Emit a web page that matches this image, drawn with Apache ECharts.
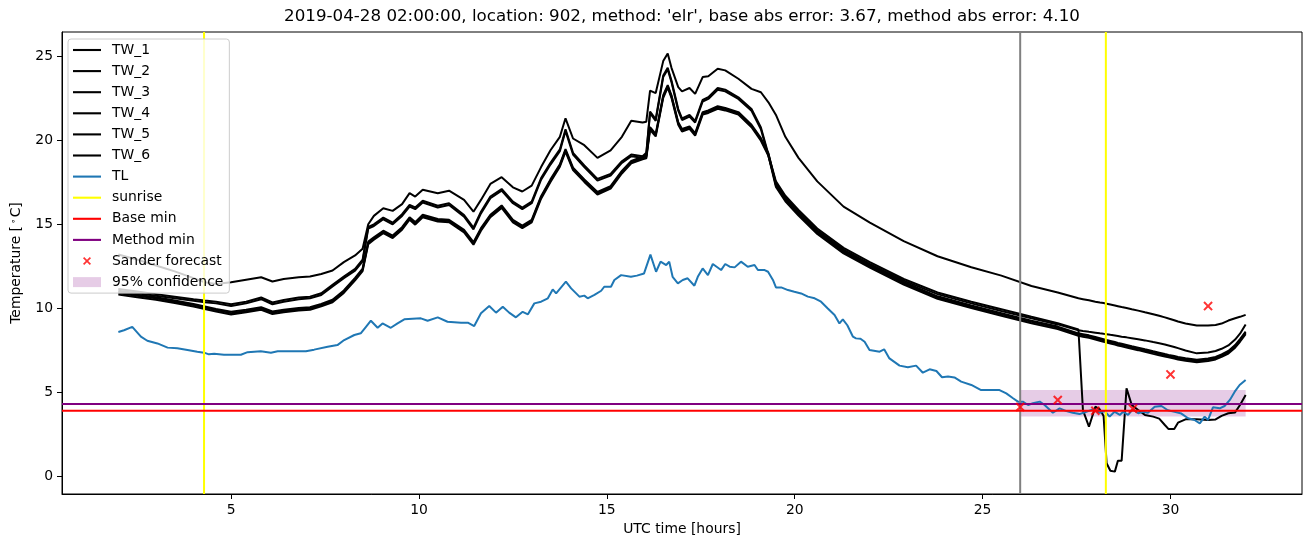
<!DOCTYPE html>
<html><head><meta charset="utf-8">
<script src="https://cdn.jsdelivr.net/npm/echarts@6.0.0/dist/echarts.min.js"></script>
<style>html,body{margin:0;padding:0;background:#fff}#c{width:1310px;height:547px}</style>
</head><body><div id="c"></div>
<script>
// ---------------- data ----------------
const titleText = "2019-04-28 02:00:00, location: 902, method: 'elr', base abs error: 3.67, method abs error: 4.10";

const twTime = [
  2, 2.5, 3, 3.5, 4, 4.3, 4.6, 5, 5.4, 5.8,
  6.1, 6.4, 6.8, 7.1, 7.4, 7.7, 8.0, 8.3, 8.5, 8.65,
  8.8, 9.05, 9.3, 9.55, 9.75, 9.9, 10.1, 10.5, 10.8, 11.2,
  11.45, 11.65, 11.9, 12.2, 12.5, 12.75, 13.0, 13.25, 13.5, 13.75,
  13.9, 14.1, 14.4, 14.75, 15.1, 15.4, 15.65, 15.95, 16.05, 16.15,
  16.3, 16.5, 16.62, 16.72, 16.9, 17.0, 17.2, 17.35, 17.55, 17.7,
  17.95, 18.15, 18.5, 18.85, 19.1, 19.3, 19.5, 19.75, 20.1, 20.6,
  21.3, 22.0, 22.9, 23.8, 24.7, 25.5, 26.3, 27.0, 27.55, 27.67,
  27.83, 28.0, 28.12, 28.22, 28.3, 28.4, 28.52, 28.6, 28.7, 28.83,
  28.97, 29.14, 29.32, 29.54, 29.7, 29.85, 29.95, 30.1, 30.2, 30.4,
  30.7, 31.0, 31.2, 31.36, 31.54, 31.72, 31.85, 32.0
];
const TW_1 = [
  13.2, 12.9, 12.55, 12.2, 11.8, 11.55, 11.45, 11.55, 11.7, 11.85,
  11.6, 11.75, 11.85, 11.9, 12.05, 12.25, 12.75, 13.15, 13.55, 15.0,
  15.5, 15.95, 15.8, 16.2, 16.85, 16.65, 17.05, 16.85, 17.0, 16.45,
  15.75, 16.45, 17.4, 17.8, 17.2, 16.95, 17.3, 18.4, 19.4, 20.2,
  21.3, 20.1, 19.7, 18.95, 19.4, 20.2, 21.15, 21.05, 21.1, 22.95,
  22.8, 24.7, 25.15, 24.3, 23.15, 22.9, 23.1, 22.75, 23.75, 23.8,
  24.25, 24.15, 23.65, 23.05, 22.85, 22.25, 21.5, 20.2, 18.95, 17.55,
  16.05, 15.1, 14.0, 13.1, 12.45, 11.95, 11.33, 10.95, 10.6, 10.55,
  10.48, 10.4, 10.35, 10.32, 10.28, 10.23, 10.17, 10.13, 10.08, 10.02,
  9.95, 9.87, 9.77, 9.65, 9.56, 9.47, 9.4, 9.3, 9.22, 9.1,
  8.98, 8.98, 9.02, 9.1, 9.28, 9.42, 9.5, 9.62
];
const TW_2 = [
  11.15, 11.0, 10.85, 10.7, 10.55, 10.47, 10.4, 10.25, 10.4, 10.65,
  10.35, 10.5, 10.65, 10.7, 10.9, 11.4, 11.9, 12.35, 12.9, 14.85,
  15.0, 15.4, 15.1, 15.6, 16.15, 16.0, 16.4, 16.1, 16.25, 15.55,
  14.8, 15.75, 16.65, 17.1, 16.35, 16.0, 16.35, 17.75, 18.65, 19.45,
  20.65, 19.25, 18.5, 17.7, 18.0, 18.75, 19.15, 19.05, 19.25, 21.7,
  21.25, 23.85, 24.3, 23.55, 21.85, 21.3, 21.5, 21.15, 22.4, 22.55,
  23.1, 23.0, 22.55, 21.85, 20.75, 19.15, 17.55, 16.7, 15.85, 14.75,
  13.6, 12.75, 11.75, 10.95, 10.4, 9.95, 9.5, 9.12, 8.75, 3.96,
  2.97, 4.16, 4.0, 3.6, 0.8, 0.35, 0.3, 0.95, 0.95, 5.25,
  4.26, 3.96, 3.67, 3.57, 3.45, 3.07, 2.83, 2.83, 3.21, 3.41,
  3.41, 3.37, 3.4, 3.61, 3.77, 3.82, 4.26, 4.85
];
const TW_3 = [
  11.05, 10.9, 10.75, 10.6, 10.45, 10.37, 10.3, 10.15, 10.3, 10.55,
  10.25, 10.4, 10.55, 10.6, 10.8, 11.3, 11.8, 12.25, 12.8, 14.75,
  14.9, 15.3, 15.0, 15.5, 16.05, 15.9, 16.3, 16.0, 16.15, 15.45,
  14.7, 15.65, 16.55, 17.0, 16.25, 15.9, 16.25, 17.65, 18.55, 19.35,
  20.55, 19.15, 18.4, 17.6, 17.9, 18.65, 19.05, 18.95, 19.15, 21.6,
  21.15, 23.75, 24.2, 23.45, 21.75, 21.2, 21.4, 21.05, 22.3, 22.45,
  23.0, 22.9, 22.45, 21.75, 20.65, 19.05, 17.45, 16.6, 15.75, 14.65,
  13.5, 12.65, 11.65, 10.85, 10.3, 9.85, 9.42, 9.05, 8.7, 8.66,
  8.61, 8.56, 8.52, 8.49, 8.47, 8.43, 8.39, 8.36, 8.32, 8.28,
  8.23, 8.17, 8.1, 8.0, 7.93, 7.86, 7.8, 7.71, 7.64, 7.5,
  7.33, 7.38, 7.47, 7.6, 7.8, 8.15, 8.5, 9.05
];
const TW_4 = [
  10.97, 10.82, 10.67, 10.47, 10.27, 10.12, 9.97, 9.8, 9.92, 10.07,
  9.82, 9.92, 10.02, 10.07, 10.27, 10.52, 11.07, 11.82, 12.37, 13.97,
  14.23, 14.62, 14.33, 14.83, 15.42, 15.13, 15.57, 15.32, 15.27, 14.67,
  13.94, 14.77, 15.57, 16.12, 15.27, 14.92, 15.27, 16.67, 17.67, 18.57,
  19.47, 18.37, 17.67, 16.92, 17.27, 18.17, 18.77, 19.02, 19.07, 20.77,
  20.37, 22.67, 23.27, 22.67, 21.07, 20.67, 20.82, 20.42, 21.67, 21.77,
  22.02, 21.92, 21.67, 20.92, 20.12, 19.22, 17.37, 16.52, 15.67, 14.57,
  13.42, 12.57, 11.57, 10.72, 10.17, 9.72, 9.27, 8.92, 8.52, 8.47,
  8.4, 8.3, 8.23, 8.17, 8.12, 8.07, 8.0, 7.95, 7.9, 7.83,
  7.75, 7.67, 7.57, 7.45, 7.37, 7.29, 7.24, 7.17, 7.12, 7.04,
  6.95, 7.02, 7.12, 7.27, 7.47, 7.82, 8.18, 8.62
];
const TW_5 = [
  10.9, 10.75, 10.6, 10.4, 10.2, 10.05, 9.9, 9.72, 9.85, 10.0,
  9.75, 9.85, 9.95, 10.0, 10.2, 10.45, 11.0, 11.75, 12.3, 13.9,
  14.16, 14.55, 14.26, 14.76, 15.35, 15.06, 15.5, 15.25, 15.2, 14.6,
  13.87, 14.7, 15.5, 16.05, 15.2, 14.85, 15.2, 16.6, 17.6, 18.5,
  19.4, 18.3, 17.6, 16.85, 17.2, 18.1, 18.7, 18.95, 19.0, 20.7,
  20.3, 22.6, 23.2, 22.6, 21.0, 20.6, 20.75, 20.35, 21.6, 21.7,
  21.95, 21.85, 21.6, 20.85, 20.05, 19.15, 17.3, 16.45, 15.6, 14.5,
  13.35, 12.5, 11.5, 10.65, 10.1, 9.65, 9.2, 8.85, 8.45, 8.4,
  8.33, 8.23, 8.16, 8.1, 8.05, 8.0, 7.93, 7.88, 7.83, 7.76,
  7.68, 7.6, 7.5, 7.38, 7.3, 7.22, 7.17, 7.1, 7.05, 6.97,
  6.88, 6.95, 7.05, 7.2, 7.4, 7.75, 8.1, 8.55
];
const TW_6 = [
  10.82, 10.67, 10.52, 10.32, 10.12, 9.97, 9.82, 9.64, 9.77, 9.92,
  9.67, 9.77, 9.87, 9.92, 10.12, 10.37, 10.92, 11.67, 12.22, 13.82,
  14.08, 14.47, 14.18, 14.68, 15.27, 14.98, 15.42, 15.17, 15.12, 14.52,
  13.79, 14.62, 15.42, 15.97, 15.12, 14.77, 15.12, 16.52, 17.52, 18.42,
  19.32, 18.22, 17.52, 16.77, 17.12, 18.02, 18.62, 18.87, 18.92, 20.62,
  20.22, 22.52, 23.12, 22.52, 20.92, 20.52, 20.67, 20.27, 21.52, 21.62,
  21.87, 21.77, 21.52, 20.77, 19.97, 19.07, 17.22, 16.37, 15.52, 14.42,
  13.27, 12.42, 11.42, 10.57, 10.02, 9.57, 9.12, 8.77, 8.37, 8.32,
  8.25, 8.15, 8.08, 8.02, 7.97, 7.92, 7.85, 7.8, 7.75, 7.68,
  7.6, 7.52, 7.42, 7.3, 7.22, 7.14, 7.09, 7.02, 6.97, 6.89,
  6.8, 6.87, 6.97, 7.12, 7.32, 7.67, 8.02, 8.47
];
// TL as [time, value] pairs
const TL = [
  [2.0,8.6],[2.15,8.7],[2.37,8.9],[2.6,8.32],[2.77,8.08],[3.04,7.92],[3.31,7.67],[3.57,7.63],[3.84,7.53],[4.1,7.43],
  [4.28,7.37],[4.41,7.27],[4.55,7.3],[4.81,7.25],[5.26,7.25],[5.44,7.4],[5.79,7.45],[6.06,7.37],[6.24,7.45],[6.68,7.45],
  [6.99,7.45],[7.21,7.55],[7.57,7.72],[7.83,7.82],[8.01,8.12],[8.28,8.42],[8.45,8.52],[8.59,8.91],[8.72,9.27],[8.9,8.85],
  [9.03,9.11],[9.25,8.85],[9.43,9.11],[9.61,9.35],[10.05,9.41],[10.23,9.27],[10.5,9.47],[10.76,9.21],[11.12,9.15],[11.3,9.15],
  [11.47,8.95],[11.65,9.71],[11.87,10.14],[12.05,9.75],[12.23,10.1],[12.4,9.75],[12.58,9.47],[12.76,9.8],[12.9,9.65],[13.07,10.3],
  [13.25,10.4],[13.43,10.6],[13.56,11.13],[13.65,10.9],[13.91,11.59],[14.05,11.19],[14.27,10.7],[14.4,10.76],[14.49,10.6],[14.67,10.8],
  [14.85,11.05],[14.93,11.29],[15.11,11.29],[15.2,11.69],[15.38,11.98],[15.64,11.88],[15.8,11.95],[15.99,12.08],[16.16,13.2],[16.31,12.18],
  [16.43,12.78],[16.58,12.58],[16.66,12.78],[16.75,11.88],[16.89,11.49],[17.02,11.69],[17.15,11.79],[17.33,11.35],[17.42,11.88],[17.55,12.38],
  [17.69,11.98],[17.82,12.64],[18.04,12.28],[18.15,12.64],[18.27,12.48],[18.4,12.44],[18.57,12.78],[18.75,12.48],[18.93,12.58],[19.02,12.28],
  [19.2,12.28],[19.29,12.18],[19.42,11.69],[19.5,11.25],[19.64,11.25],[19.82,11.09],[19.99,10.99],[20.17,10.89],[20.35,10.7],[20.53,10.6],
  [20.7,10.4],[20.88,10.0],[21.06,9.61],[21.19,9.11],[21.28,9.35],[21.4,9.0],[21.55,8.32],[21.63,8.22],[21.75,8.2],[21.86,8.02],
  [21.99,7.53],[22.26,7.43],[22.38,7.57],[22.52,7.03],[22.79,6.6],[23.01,6.5],[23.23,6.6],[23.41,6.18],[23.59,6.38],[23.77,6.28],
  [23.92,5.91],[24.08,5.95],[24.25,5.9],[24.43,5.65],[24.7,5.45],[24.96,5.15],[25.23,5.15],[25.45,5.15],[25.63,4.95],[25.81,4.66],
  [25.94,4.46],[26.07,4.46],[26.21,4.26],[26.34,4.36],[26.52,4.46],[26.65,4.26],[26.87,3.8],[27.05,4.06],[27.23,3.9],[27.4,3.8],
  [27.58,3.72],[27.76,3.86],[27.94,4.0],[28.12,3.8],[28.25,3.9],[28.38,3.57],[28.51,3.86],[28.65,3.67],[28.74,3.86],[28.87,3.67],
  [29.0,4.0],[29.14,3.77],[29.27,3.86],[29.4,3.8],[29.58,4.15],[29.76,4.2],[29.93,3.95],[30.11,3.85],[30.29,3.75],[30.47,3.47],
  [30.64,3.37],[30.78,3.17],[30.91,3.57],[31.0,3.37],[31.13,4.12],[31.31,4.06],[31.44,4.2],[31.58,4.56],[31.71,5.05],[31.84,5.45],
  [32.0,5.75]
];
const sunriseTimes = [4.28, 28.28];
const forecastStart = 26.0;
const baseMin = 3.92;
const methodMin = 4.32;
const sanderTime = [26, 27, 28, 29, 30, 31];
const sanderForecast = [4.14, 4.56, 3.92, 4.04, 6.08, 10.14];
const confTime = [26, 32];
const confBounds = [3.57, 5.15];
const xTicks = [5, 10, 15, 20, 25, 30];
const yTicks = [0, 5, 10, 15, 20, 25];
const xRange = [0.5, 33.5];
const yRange = [-1.03, 26.43];

// ---------------- chart ----------------
const FONT = 'DejaVu Sans';
const pairs = (xs, ys) => xs.map((x, i) => [x, ys[i]]);
const line = (name, data, color, extra) => Object.assign({
  type: 'line', name, data, symbol: 'none', showSymbol: false,
  lineStyle: { color, width: 2 }, itemStyle: { color },
  silent: true, animation: false, clip: true
}, extra || {});

const series = [];
[['TW_1', TW_1], ['TW_2', TW_2], ['TW_3', TW_3], ['TW_4', TW_4], ['TW_5', TW_5], ['TW_6', TW_6]]
  .forEach(([n, v]) => series.push(line(n, pairs(twTime, v), '#000000')));
series.push(line('TL', TL, '#1f77b4'));
series.push(line('now', [[forecastStart, yRange[0]], [forecastStart, yRange[1]]], '#808080'));
sunriseTimes.forEach(t => series.push(line('sunrise', [[t, yRange[0]], [t, yRange[1]]], '#ffff00')));
series.push(line('Base min', [[xRange[0], baseMin], [xRange[1], baseMin]], '#ff0000'));
series.push(line('Method min', [[xRange[0], methodMin], [xRange[1], methodMin]], '#800080'));
const xPath = 'path://M0,1.5L1.5,0L5,3.5L8.5,0L10,1.5L6.5,5L10,8.5L8.5,10L5,6.5L1.5,10L0,8.5L3.5,5Z';
// same cross, with two tiny specks widening its box so the legend draws it small
const xLegendPath = 'path://M-12.5,-3.75h0.01v0.01h-0.01zM22.49,13.74h0.01v0.01h-0.01zM0,1.5L1.5,0L5,3.5L8.5,0L10,1.5L6.5,5L10,8.5L8.5,10L5,6.5L1.5,10L0,8.5L3.5,5Z';
series.push({
  type: 'scatter', name: 'Sander forecast', data: pairs(sanderTime, sanderForecast),
  symbol: xPath, symbolSize: 9.5, itemStyle: { color: '#ff0000' }, silent: true, animation: false, z: 3
});
series.push({
  type: 'custom', name: '95% confidence',
  data: [[confTime[0], confBounds[0], confTime[1], confBounds[1]]],
  encode: { x: [0, 2], y: [1, 3] },
  renderItem: (params, api) => {
    const p0 = api.coord([api.value(0), api.value(3)]);
    const p1 = api.coord([api.value(2), api.value(1)]);
    return { type: 'rect', shape: { x: p0[0], y: p0[1], width: p1[0] - p0[0], height: p1[1] - p0[1] },
      style: { fill: 'rgba(128,0,128,0.2)' } };
  },
  itemStyle: { color: 'rgba(128,0,128,0.2)' }, silent: true, animation: false, z: 3
});

const axisCommon = (ticks) => ({
  type: 'value', splitLine: { show: false },
  axisLine: { show: true, onZero: false, lineStyle: { color: '#000', width: 1 } },
  axisTick: { show: true, length: 5, inside: false, customValues: ticks, lineStyle: { color: '#000', width: 1 } },
  axisLabel: { customValues: ticks, margin: 9, fontFamily: FONT, fontSize: 13.9, color: '#000' },
  nameLocation: 'middle',
  nameTextStyle: { fontFamily: FONT, fontSize: 13.9, color: '#000' }
});

const lineIcon = 'path://M0,0h28v2.1h-28z';
const legendNames = ['TW_1', 'TW_2', 'TW_3', 'TW_4', 'TW_5', 'TW_6', 'TL', 'sunrise', 'Base min', 'Method min'];

const option = {
  animation: false,
  backgroundColor: '#ffffff',
  title: {
    text: titleText, left: 682, top: 8, textAlign: 'center', padding: 0,
    textStyle: { fontFamily: FONT, fontSize: 16.7, fontWeight: 'normal', color: '#000' }
  },
  grid: { left: 62, right: 8, top: 32, bottom: 53, show: true, borderColor: '#000', borderWidth: 1, backgroundColor: 'transparent' },
  xAxis: Object.assign(axisCommon(xTicks), { min: xRange[0], max: xRange[1], name: 'UTC time [hours]', nameGap: 27 }),
  yAxis: Object.assign(axisCommon(yTicks), {
    min: yRange[0], max: yRange[1], name: 'Temperature [{s|∘}C]', nameGap: 38,
    nameTextStyle: { fontFamily: FONT, fontSize: 13.9, color: '#000',
      rich: { s: { fontFamily: FONT, fontSize: 9, color: '#000', padding: [0, 1, 6, 2] } } }
  }),
  legend: {
    data: legendNames.map(n => ({ name: n, icon: lineIcon })).concat([
      { name: 'Sander forecast', icon: xLegendPath },
      { name: '95% confidence', icon: 'path://M0,0h28v10h-28z', itemStyle: { color: 'rgba(128,0,128,0.2)' } }
    ]),
    orient: 'vertical', left: 68, top: 39,
    itemWidth: 28, itemHeight: 14, itemGap: 7.1,
    padding: [4, 6, 4, 5],
    itemStyle: { borderWidth: 0 },
    backgroundColor: 'rgba(255,255,255,0.8)', borderColor: '#cccccc', borderWidth: 1, borderRadius: 3,
    textStyle: { fontFamily: FONT, fontSize: 13.9, color: '#000', padding: [0, 0, 0, 6] },
    selectedMode: false
  },
  series
};
const chart = echarts.init(document.getElementById('c'), null, { renderer: 'canvas' });
chart.setOption(option);
</script>
</body></html>
